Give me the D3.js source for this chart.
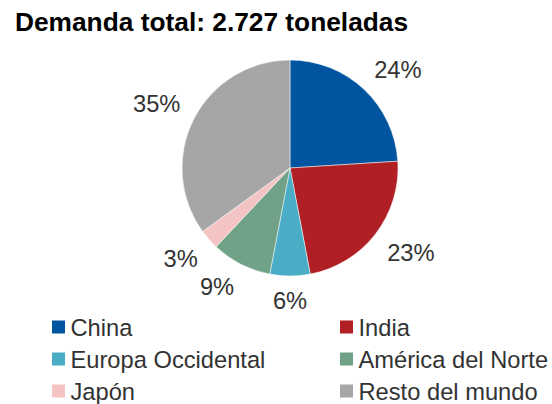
<!DOCTYPE html>
<html>
<head>
<meta charset="utf-8">
<script src="https://cdn.jsdelivr.net/npm/d3@7"></script>
<style>
  body { margin: 0; background: #fff; }
  text { font-family: "Liberation Sans", Arial, sans-serif; }
</style>
</head>
<body>
<script>
// Data
const regions = ["China", "India", "Europa Occidental", "América del Norte", "Japón", "Resto del mundo"];
const shares = [24, 23, 6, 9, 3, 35];
const colors = ["#0054A0", "#B01F24", "#4BACC6", "#6FA287", "#F4C3C3", "#A6A6A6"];
const title = "Demanda total: 2.727 toneladas";

const W = 552, H = 404;
const cx = 290, cy = 168, R = 108;
const fs = 23.7;

const svg = d3.select("body").append("svg")
  .attr("width", W)
  .attr("height", H);

// Title
svg.append("text")
  .attr("x", 15)
  .attr("y", 31)
  .attr("font-size", 26.3)
  .attr("font-weight", "bold")
  .attr("fill", "#000")
  .text(title);

const pie = d3.pie().sort(null).value(d => d);
const arc = d3.arc().innerRadius(0).outerRadius(R);
const arcs = pie(shares);

const g = svg.append("g").attr("transform", `translate(${cx},${cy})`);

g.selectAll("path")
  .data(arcs)
  .enter().append("path")
  .attr("d", arc)
  .attr("fill", (d, i) => colors[i])
  .attr("stroke", "#fff")
  .attr("stroke-width", 0.5);

// Labels outside, pushed out by half their box
g.selectAll("text.lbl")
  .data(arcs)
  .enter().append("text")
  .attr("class", "lbl")
  .attr("font-size", fs)
  .attr("fill", "#333")
  .attr("text-anchor", "middle")
  .text(d => d.data + "%")
  .each(function(d) {
    const a = (d.startAngle + d.endAngle) / 2;
    const dx = Math.sin(a), dy = -Math.cos(a);
    const w = this.getComputedTextLength();
    const h = 18;
    const sx = Math.abs(dx) > 0.1 ? Math.sign(dx) : 0;
    const sy = Math.abs(dy) > 0.1 ? Math.sign(dy) : 0;
    const x = (R + 15) * dx + sx * w / 2;
    const y = (R + 15) * dy + sy * h / 2;
    d3.select(this).attr("x", x).attr("y", y + 0.36 * fs);
  });

// Legend
const legend = svg.append("g");
const colX = [52, 340];
const rowY = [327, 359, 391];

const item = legend.selectAll("g")
  .data(regions)
  .enter().append("g")
  .attr("transform", (d, i) => `translate(${colX[i % 2]},${rowY[Math.floor(i / 2)]})`);

item.append("rect")
  .attr("x", 0)
  .attr("y", -6.5)
  .attr("width", 13)
  .attr("height", 13)
  .attr("fill", (d, i) => colors[i]);

item.append("text")
  .attr("x", 18.5)
  .attr("y", 0.36 * fs)
  .attr("font-size", fs)
  .attr("fill", "#333")
  .text(d => d);
</script>
</body>
</html>
